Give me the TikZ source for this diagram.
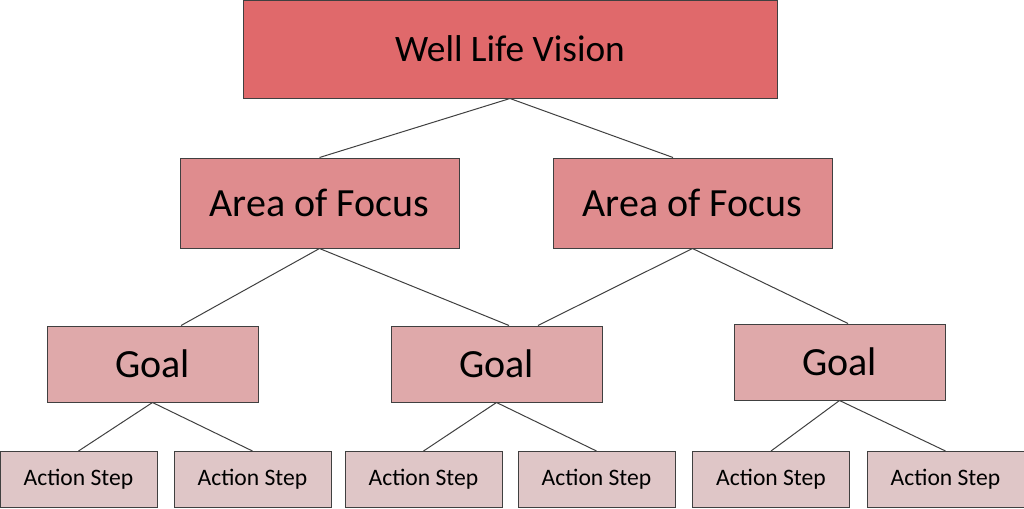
\documentclass[tikz,border=0pt]{standalone}
\usepackage{fontspec}
\setmainfont{Carlito}
\usetikzlibrary{positioning}
\definecolor{visionred}{RGB}{224,105,107}
\definecolor{focusred}{RGB}{223,140,142}
\definecolor{goalpink}{RGB}{223,169,170}
\definecolor{steppink}{RGB}{223,198,199}
\definecolor{edgegray}{RGB}{64,64,64}
\tikzset{
  box/.style={rectangle, draw=edgegray, line width=0.75pt, inner sep=0pt, align=center},
  visionbox/.style={box, fill=visionred, minimum width=400.5pt, minimum height=73.5pt,
                    font=\fontsize{28}{33}\selectfont},
  focusbox/.style={box, fill=focusred, minimum width=209.25pt, minimum height=67.5pt,
                   font=\fontsize{30}{35}\selectfont},
  goalbox/.style={box, fill=goalpink, minimum width=158.25pt, minimum height=57pt,
                  font=\fontsize{30}{35}\selectfont},
  stepbox/.style={box, fill=steppink, minimum width=117.75pt, minimum height=42pt,
                  font=\fontsize{17.7}{21}\selectfont},
  link/.style={draw=edgegray, line width=0.75pt},
}

\begin{document}
\begin{tikzpicture}[x=0.75pt,y=-0.75pt]
\useasboundingbox (0,0) rectangle (1024,508);
% top level
\node[visionbox] (vision) at (510,49) {Well Life Vision};
% areas of focus
\node[focusbox] (area1) at (319.5,203) {Area of Focus};
\node[focusbox] (area2) at (692.5,203) {Area of Focus};
% goals
\node[goalbox] (goal1) at (152.5,364) {Goal};
\node[goalbox] (goal2) at (496.5,364) {Goal};
\node[goalbox] (goal3) at (839.5,362) {Goal};
% action steps
\foreach \n/\x in {1/78.5, 2/252.5, 3/423.5, 4/596.5, 5/771, 6/945.5}
  \node[stepbox] (step\n) at (\x,479.5) {Action Step};

\draw[link] (vision.south) -- (area1.north);
\draw[link] (vision.south) -- ([xshift=-14.6pt]area2.north);
\draw[link] (area1.south) -- ([xshift=21.4pt]goal1.north);
\draw[link] (area1.south) -- ([xshift=9.4pt]goal2.north);
\draw[link] (area2.south) -- ([xshift=31.1pt]goal2.north);
\draw[link] (area2.south) -- ([xshift=6.4pt]goal3.north);
\foreach \g/\a/\b in {goal1/step1/step2, goal2/step3/step4, goal3/step5/step6} {
  \draw[link] (\g.south) -- (\a.north);
  \draw[link] (\g.south) -- (\b.north);
}
\end{tikzpicture}
\end{document}
